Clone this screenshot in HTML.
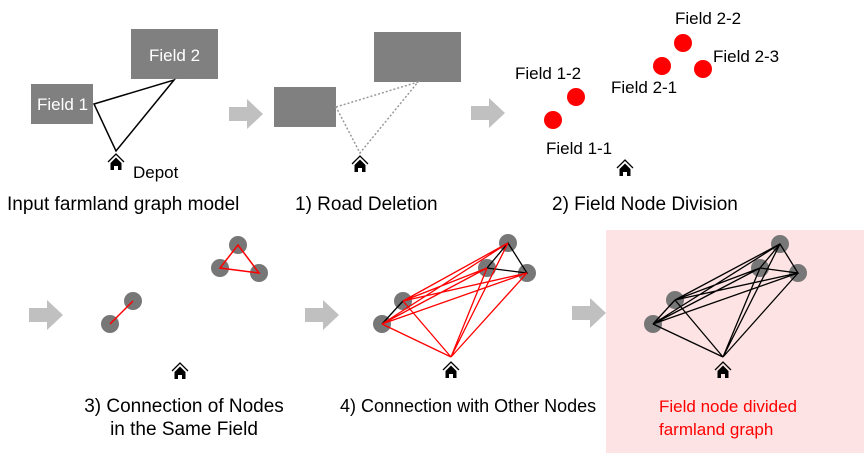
<!DOCTYPE html>
<html><head><meta charset="utf-8"><style>
html,body{margin:0;padding:0;background:#fff;}
svg{display:block;font-family:"Liberation Sans",Arial,sans-serif;}
</style></head><body>
<svg width="864" height="453" viewBox="0 0 864 453" xmlns="http://www.w3.org/2000/svg">
<defs>
<g id="house"><path d="M-8,0 L0,-8 L8,0" fill="none" stroke="#000" stroke-width="1.3"/><path d="M-5.5,1 L0,-4.5 L5.5,1 L5.5,8 L2,8 L2,4 L-2,4 L-2,8 L-5.5,8 Z" fill="#000"/></g>
<path id="arr" d="M0,8 L18,8 L18,0 L34,15 L18,30 L18,22 L0,22 Z" fill="#c0c0c0"/>
</defs>
<rect x="606" y="230" width="258" height="223" fill="#fde3e3"/>
<!-- Panel 1 -->
<rect x="31" y="84" width="62" height="40" fill="#808080"/>
<rect x="131" y="29" width="87" height="50" fill="#808080"/>
<text x="37" y="110" font-size="17" fill="#fff">Field 1</text>
<text x="149" y="61" font-size="17" fill="#fff">Field 2</text>
<path d="M94,104 L174,80 L116,151 Z" fill="none" stroke="#000" stroke-width="1.5"/>
<use href="#house" x="116" y="162"/>
<text x="133" y="178" font-size="17">Depot</text>
<text x="7" y="210" font-size="19">Input farmland graph model</text>
<use href="#arr" x="229" y="99"/>
<!-- Panel 2 -->
<rect x="274" y="87" width="62" height="40" fill="#808080"/>
<rect x="374" y="32" width="87" height="50" fill="#808080"/>
<path d="M336,107 L418,82 L360,153 Z" fill="none" stroke="#999" stroke-width="1.5" stroke-dasharray="2,2"/>
<use href="#house" x="360" y="164"/>
<text x="295" y="210" font-size="19">1) Road Deletion</text>
<use href="#arr" x="471" y="98"/>
<!-- Panel 3 -->
<g fill="#f00"><circle cx="553" cy="120" r="9"/><circle cx="576" cy="97" r="9"/><circle cx="662" cy="66" r="9"/><circle cx="683" cy="43" r="9"/><circle cx="703" cy="69" r="9"/></g>
<g font-size="17">
<text x="675" y="24">Field 2-2</text>
<text x="713" y="62">Field 2-3</text>
<text x="515" y="79">Field 1-2</text>
<text x="611" y="93">Field 2-1</text>
<text x="546" y="154">Field 1-1</text>
</g>
<use href="#house" x="625" y="168"/>
<text x="552" y="210" font-size="19">2) Field Node Division</text>
<!-- Row 2 panel 3 -->
<use href="#arr" x="29" y="300"/>
<g fill="#777"><circle cx="110" cy="324" r="9"/><circle cx="133" cy="301" r="9"/><circle cx="238" cy="245" r="9"/><circle cx="220" cy="268" r="9"/><circle cx="259" cy="273" r="9"/></g>
<path d="M110,324 L133,301 M238,245 L220,268 L259,273 Z" fill="none" stroke="#f00" stroke-width="1.5"/>
<use href="#house" x="180" y="371"/>
<text x="184" y="412" font-size="19" text-anchor="middle">3) Connection of Nodes</text>
<text x="184" y="435" font-size="19" text-anchor="middle">in the Same Field</text>
<!-- Panel 4 -->
<use href="#arr" x="305" y="300"/>
<g fill="#777"><circle cx="382" cy="324" r="9"/><circle cx="403" cy="301" r="9"/><circle cx="487" cy="268" r="9"/><circle cx="508" cy="243" r="9"/><circle cx="527" cy="273" r="9"/></g>
<g stroke="#000" stroke-width="1.3" fill="none"><path d="M382,324 L403,301 M487,268 L508,243 L527,273 Z"/></g>
<g stroke="#f00" stroke-width="1.3" fill="none"><path d="M382,324 L487,268 M382,324 L508,243 M382,324 L527,273 M403,301 L487,268 M403,301 L508,243 M403,301 L527,273 M451,357 L382,324 M451,357 L403,301 M451,357 L487,268 M451,357 L508,243 M451,357 L527,273"/></g>
<use href="#house" x="451" y="370"/>
<text x="340" y="412" font-size="18">4) Connection with Other Nodes</text>
<!-- Panel 5 -->
<use href="#arr" x="572" y="298"/>
<g fill="#777"><circle cx="653" cy="324" r="9"/><circle cx="675" cy="300" r="9"/><circle cx="760" cy="268" r="9"/><circle cx="780" cy="244" r="9"/><circle cx="798" cy="273" r="9"/></g>
<g stroke="#000" stroke-width="1.3" fill="none"><path d="M653,324 L675,300 M760,268 L780,244 L798,273 Z M653,324 L760,268 M653,324 L780,244 M653,324 L798,273 M675,300 L760,268 M675,300 L780,244 M675,300 L798,273 M723,357 L653,324 M723,357 L675,300 M723,357 L760,268 M723,357 L780,244 M723,357 L798,273"/></g>
<use href="#house" x="723" y="370"/>
<text x="659" y="412" font-size="17" fill="#f00">Field node divided</text>
<text x="659" y="435" font-size="17" fill="#f00">farmland graph</text>
</svg>
</body></html>
